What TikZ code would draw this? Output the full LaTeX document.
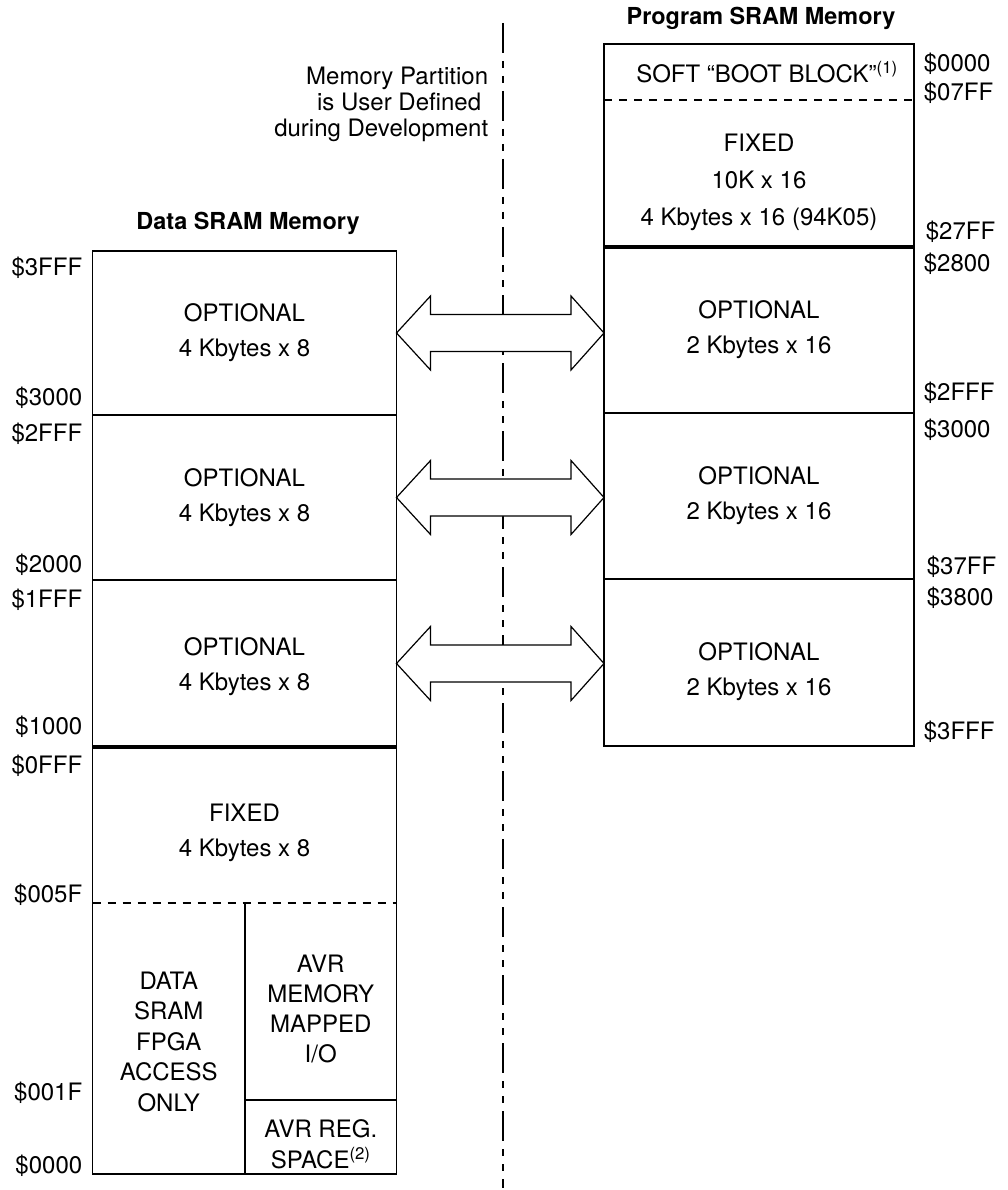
\documentclass[tikz,border=0pt]{standalone}
\usepackage{fontspec}
\setmainfont{TeX Gyre Heros}
\usetikzlibrary{positioning,calc}

\begin{document}
\begin{tikzpicture}[
  x=1pt, y=-1pt,
  font=\fontsize{24}{35}\selectfont,
  line width=1.6pt,
  blk/.style={inner sep=0pt, outer sep=0pt, align=center, minimum width=304pt},
  pblk/.style={blk, minimum width=310pt},
  txt/.style={inner sep=0pt, align=center},
  heavy/.style={line width=4.5pt},
  sep/.style={dash pattern=on 8pt off 7pt, line width=1.3pt},
  addr/.style={inner sep=0pt},
  ttl/.style={font=\fontsize{23.4}{28}\selectfont\bfseries},
  dbl/.style={fill=white, line width=1.2pt, line join=miter},
  divider/.style={line width=2pt,
                  dash pattern=on 30pt off 8pt on 7pt off 8pt on 7pt off 8pt}
]
\useasboundingbox (0,0) rectangle (1008,1190);

% Data SRAM column, stacked from the top.
\node[blk, minimum height=164pt] (d3) at (244.5,333) {OPTIONAL\\4 Kbytes x 8};
\node[blk, minimum height=165pt, below=0pt of d3] (d2) {OPTIONAL\\4 Kbytes x 8};
\node[blk, minimum height=167pt, below=0pt of d2] (d1) {};
\node[blk, minimum height=156pt, below=0pt of d1] (dfix) {};
\node[txt] (d1-t) at ($(d1.center)+(0,3)$) {OPTIONAL\\4 Kbytes x 8};
\node[txt] (dfix-t) at ($(dfix.center)+(0,8)$) {FIXED\\4 Kbytes x 8};

% Bottom split: FPGA-only area beside the AVR I/O and register space.
\node[blk, minimum width=152.5pt, minimum height=271pt, anchor=north west] (fpga)
  at (dfix.south west) {};
\node[blk, minimum width=151.5pt, minimum height=197pt, anchor=north east] (io)
  at (dfix.south east) {};
\node[blk, minimum width=151.5pt, minimum height=74pt, below=0pt of io] (reg) {};
\node[txt, font=\fontsize{24}{30.5}\selectfont] (fpga-t) at ($(fpga.center)+(0,3)$)
  {DATA\\SRAM\\FPGA\\ACCESS\\ONLY};
\node[txt, font=\fontsize{24}{30}\selectfont] (io-t) at ($(io.center)+(0,7)$)
  {AVR\\MEMORY\\MAPPED\\I/O};
\node[txt, font=\fontsize{24}{31}\selectfont] (reg-t) at ($(reg.center)+(0,7)$)
  {AVR REG.\\SPACE\textsuperscript{(2)}};

% Program SRAM column.
\node[pblk, minimum height=56pt] (boot) at (759,72) {};
\node[pblk, minimum height=147pt, below=0pt of boot] (pfix) {};
\node[pblk, minimum height=166pt, below=0pt of pfix] (p1) {OPTIONAL\\2 Kbytes x 16};
\node[pblk, minimum height=166pt, below=0pt of p1] (p2) {OPTIONAL\\2 Kbytes x 16};
\node[pblk, minimum height=167pt, below=0pt of p2] (p3) {};
\node[txt] (boot-t) at ($(boot.center)+(8,0)$) {SOFT “BOOT BLOCK”\textsuperscript{(1)}};
\node[txt, font=\fontsize{24}{37}\selectfont] (pfix-t) at ($(pfix.center)+(0,9)$)
  {FIXED\\10K x 16\\4 Kbytes x 16 (94K05)};
\node[txt] (p3-t) at ($(p3.center)+(0,9)$) {OPTIONAL\\2 Kbytes x 16};

% Frames and block boundaries.
\draw (d3.north west) rectangle (reg.south east);
\draw (d3.south west) -- (d3.south east);
\draw (d2.south west) -- (d2.south east);
\draw[heavy] (d1.south west) -- (d1.south east);
\draw[sep] (dfix.south west) -- (dfix.south east);
\draw (fpga.north east) -- (fpga.south east);
\draw (io.south west) -- (io.south east);

\draw (boot.north west) rectangle (p3.south east);
\draw[sep] (boot.south west) -- (boot.south east);
\draw[heavy] (pfix.south west) -- (pfix.south east);
\draw (p1.south west) -- (p1.south east);
\draw (p2.south west) -- (p2.south east);

% Titles and the partition note.
\node[ttl] (dtitle) at (248,223) {Data SRAM Memory};
\node[ttl] (ptitle) at (761,18) {Program SRAM Memory};
\node[anchor=east, align=right, inner sep=0pt,
      font=\fontsize{24}{26}\selectfont] (note) at (489,104)
  {Memory Partition\\is User Defined\kern7pt\\during Development};

% Address labels.
\foreach \txt/\y [count=\i] in {3FFF/268, 3000/398, 2FFF/434, 2000/565, 1FFF/600,
                                1000/727, 0FFF/766, 005F/895, 001F/1093, 0000/1166}
  \node[addr, anchor=east] (la\i) at (83,\y) {\$\txt};
\foreach \txt/\x/\y [count=\i] in {0000/923/64, 07FF/923/93, 27FF/925/232,
                                   2800/923/264, 2FFF/923/393, 3000/923/430,
                                   37FF/926/567, 3800/926/598, 3FFF/923/732}
  \node[addr, anchor=west] (ra\i) at (\x,\y) {\$\txt};

% Partition divider.
\coordinate (divtop) at (503,23);
\coordinate (divbot) at (503,1188);
\draw[divider] (divtop) -- (divbot);

% Two-way arrows between the optional blocks.
\foreach \l/\r in {d3/p1, d2/p2, d1/p3}
  \draw[dbl] (\l.east) -- ++(34,-37) -- ++(0,18.5)
    -- ($(\r.west |- \l.east)+(-33,-18.5)$) -- ++(0,-18.5)
    -- (\r.west |- \l.east) -- ++(-33,37) -- ++(0,-18.5)
    -- ($(\l.east)+(34,18.5)$) -- ++(0,18.5) -- cycle;
\end{tikzpicture}
\end{document}
